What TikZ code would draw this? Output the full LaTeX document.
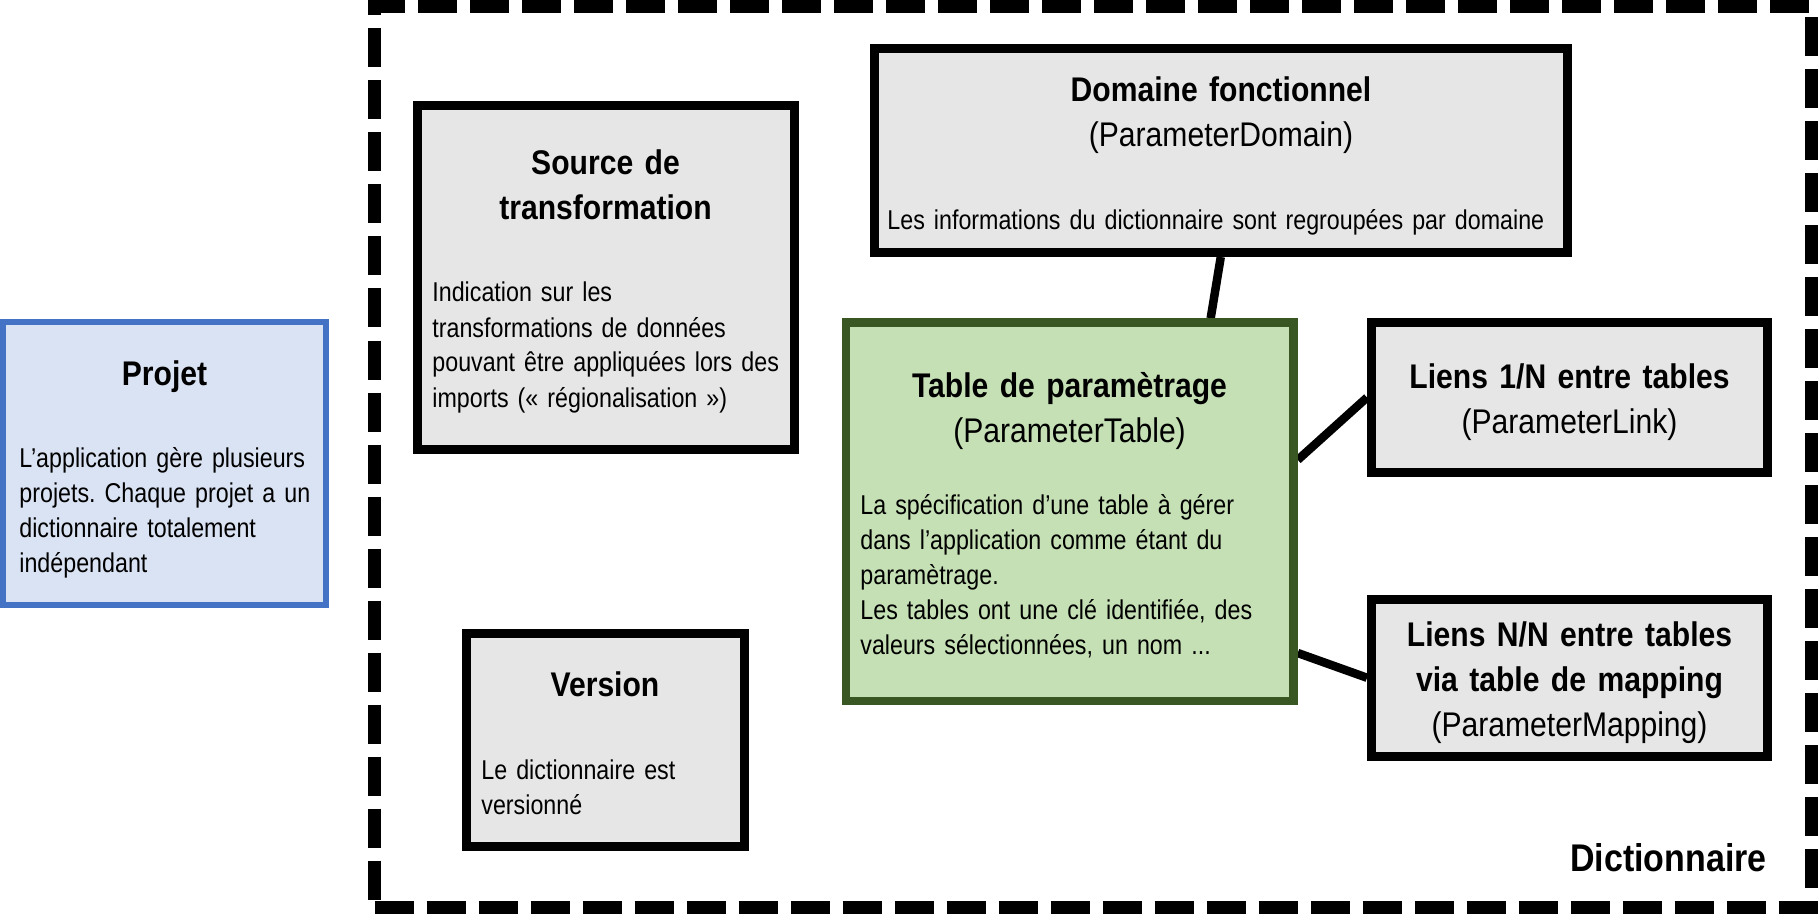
\documentclass[tikz,border=0pt]{standalone}
\usepackage{fontspec}
\setmainfont{Liberation Sans}[FakeStretch=0.88]
\newfontfamily\bodyfont{Liberation Sans}[FakeStretch=0.855]
\frenchspacing
\usetikzlibrary{calc,backgrounds}
\definecolor{boxgray}{HTML}{E6E6E6}
\definecolor{tablefill}{HTML}{C5E0B4}
\definecolor{tabledraw}{HTML}{385723}
\definecolor{projfill}{HTML}{DAE3F3}
\definecolor{projdraw}{HTML}{4472C4}
\begin{document}
\begin{tikzpicture}[x=0.5pt,y=-0.5pt]
			\tikzset{
			  BoxStyle/.style = { draw, fill = boxgray, line width = 4.5pt, inner sep = 0pt },
			  TitleStyle/.style = { anchor = base, inner sep = 0pt, text width = 170pt, align = center,
			                        font = \fontsize{17.1}{22.5}\selectfont\bfseries },
			  TextStyle/.style = { anchor = base west, inner sep = 0pt, text width = 340pt, align = left,
			                       font = \bodyfont\fontsize{13.6}{17.5}\selectfont },
			  EdgeStyle/.style = { line width = 4.25pt },
			  FrameStyle/.style = { draw, line width = 6.5pt, dash pattern = on 19.5pt off 6.5pt,
			                        inner sep = 0pt } }
			\useasboundingbox (0,0) rectangle (1818,914);
			\node[FrameStyle, minimum width = 718.25pt, minimum height = 450.5pt] (dico) at (1092.75,457) {};
			\node[BoxStyle, draw = projdraw, fill = projfill, line width = 3pt,
			      minimum width = 161.5pt, minimum height = 141.5pt] (projet) at (164.5,463.5) {};
			\node[BoxStyle, minimum width = 188.5pt, minimum height = 172pt] (source) at (605.5,277.5) {};
			\node[BoxStyle, minimum width = 346.25pt, minimum height = 101.75pt] (domaine) at (1220.75,150.75) {};
			\node[BoxStyle, draw = tabledraw, fill = tablefill, line width = 4.25pt,
			      minimum width = 223.75pt, minimum height = 189.25pt] (table) at (1069.75,511.75) {};
			\node[BoxStyle, minimum width = 198pt, minimum height = 75pt] (liens1) at (1569.5,397.5) {};
			\node[BoxStyle, minimum width = 198pt, minimum height = 78.25pt] (liensnn) at (1569.5,677.75) {};
			\node[BoxStyle, minimum width = 139.25pt, minimum height = 106.5pt] (version) at (605.25,740) {};
			\begin{scope}[on background layer]
			\draw[EdgeStyle] (domaine.south) -- ($(table.north west)!.809!(table.north east)$);
			\draw[EdgeStyle] ($(table.north east)!.366!(table.south east)$) -- (liens1.west);
			\draw[EdgeStyle] ($(table.north east)!.865!(table.south east)$) -- (liensnn.west);
			\end{scope}
			\node[TitleStyle] (projet-t) at (164.5,385) {Projet};
			\node[TextStyle] (projet-b) at (19,467) {L’application gère plusieurs\\projets. Chaque projet a un\\dictionnaire totalement\\indépendant};
			\node[TitleStyle] (source-t) at (605.5,175) {Source de\\transformation};
			\node[TextStyle] (source-b) at (432,302) {Indication sur les\\transformations de données\\pouvant être appliquées lors des\\imports (« régionalisation »)};
			\node[TitleStyle] (domaine-t) at (1221,102) {Domaine fonctionnel\\\mdseries (ParameterDomain)};
			\node[TextStyle] (domaine-b) at (887,230) {Les informations du dictionnaire sont regroupées par domaine};
			\node[TitleStyle] (table-t) at (1069.5,397) {Table de paramètrage\\\mdseries (ParameterTable)};
			\node[TextStyle] (table-b) at (860,514) {La spécification d’une table à gérer\\dans l’application comme étant du\\paramètrage.\\Les tables ont une clé identifiée, des\\valeurs sélectionnées, un nom ...};
			\node[TitleStyle] (liens1-t) at (1569.5,388) {Liens 1/N entre tables\\\mdseries (ParameterLink)};
			\node[TitleStyle] (liensnn-t) at (1569.5,646) {Liens N/N entre tables\\via table de mapping\\\mdseries (ParameterMapping)};
			\node[TitleStyle] (version-t) at (605,696) {Version};
			\node[TextStyle] (version-b) at (481,779) {Le dictionnaire est\\versionné};
			\node[anchor = base east, inner sep = 0pt, font = \fontsize{19.3}{23}\selectfont\bfseries] (dico-t) at (1767,871) {Dictionnaire};
		\end{tikzpicture}
\end{document}
